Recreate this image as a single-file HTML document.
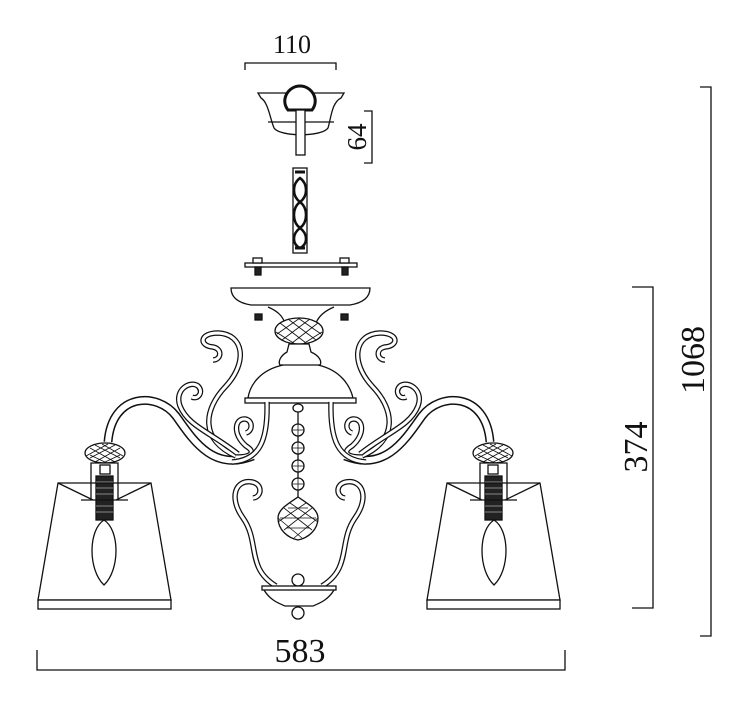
<!DOCTYPE html>
<html><head><meta charset="utf-8"><style>
html,body{margin:0;padding:0;background:#fff;}
svg{display:block;}
text{font-family:"Liberation Serif",serif;fill:#111;}
</style></head><body>
<svg width="754" height="720" viewBox="0 0 754 720" xmlns="http://www.w3.org/2000/svg">
<defs>
<g id="half" fill="none" stroke="#111" stroke-width="1.3">
  <path d="M345,456 C385,472 405,440 422,416 C440,392 486,392 490,442" stroke-width="9"/>
  <path d="M345,456 C385,472 405,440 422,416 C440,392 486,392 490,442" stroke="#fff" stroke-width="6"/>
  <g>
  <path d="M385,360 C377,360 375,349 385,347 C399,346 399,333 380,333 C354,334 350,362 372,386 C395,410 398,440 362,456" stroke-width="5.5"/>
  <path d="M385,360 C377,360 375,349 385,347 C399,346 399,333 380,333 C354,334 350,362 372,386 C395,410 398,440 362,456" stroke="#fff" stroke-width="3"/>
  <path d="M406,397 C400,400 394,392 400,386 C408,380 424,390 418,406 C410,426 388,432 360,454" stroke-width="5.5"/>
  <path d="M406,397 C400,400 394,392 400,386 C408,380 424,390 418,406 C410,426 388,432 360,454" stroke="#fff" stroke-width="3"/>
  <path d="M352,433 C345,431 345,420 353,419 C363,418 366,434 352,446 C342,452 346,457 362,457" stroke-width="5.5"/>
  <path d="M352,433 C345,431 345,420 353,419 C363,418 366,434 352,446 C342,452 346,457 362,457" stroke="#fff" stroke-width="3"/>
  <path d="M331,402 C330,440 338,460 366,462" stroke-width="5.5"/>
  <path d="M331,402 C330,440 338,460 366,462" stroke="#fff" stroke-width="3"/>
  <path d="M345,498 C336,497 335,484 346,482 C362,479 370,497 355,518 C338,542 352,568 322,586" stroke-width="5.5"/>
  <path d="M345,498 C336,497 335,484 346,482 C362,479 370,497 355,518 C338,542 352,568 322,586" stroke="#fff" stroke-width="3"/>
  </g>
  <ellipse cx="493" cy="453" rx="20" ry="10" fill="#fff"/>
  <path d="M478,448 L503,462 M483,445 L508,458 M490,444 L512,456 M478,455 L495,463 M508,448 L483,462 M503,445 L478,458 M496,444 L475,456 M508,455 L491,463" stroke-width="0.8"/>
  <path d="M480,500 L480,463 L507,463 L507,500" fill="#fff"/>
  <rect x="488" y="465" width="10" height="9" fill="#fff"/>
  <rect x="485" y="476" width="17" height="44" fill="#222"/>
  <path d="M485,482 H502 M485,488 H502 M485,494 H502 M485,500 H502 M485,506 H502 M485,512 H502" stroke="#888" stroke-width="1"/>
  <path d="M447,483 L540,483 L560,600 L427,600 Z" fill="none"/>
  <rect x="427" y="600" width="133" height="9" fill="#fff"/>
  <path d="M447,483 L482,500 M540,483 L505,500 M470,500 H517" />
  <path d="M494,520 C478,530 478,570 494,585 C510,570 510,530 494,520 Z" fill="#fff"/>
</g>
</defs>

<g stroke="#111" stroke-width="1.3" fill="none">
  <path d="M245,70 V63 H336 V70"/>
  <path d="M364,111 H372 V163 H364"/>
  <path d="M700,87 H711 V636 H700"/>
  <path d="M632,287 H653 V608 H632"/>
  <path d="M37,650 V670 H565 V650"/>
</g>
<text x="292" y="53" font-size="26" text-anchor="middle" font-family="Liberation Sans, sans-serif">110</text>
<text x="0" y="0" font-size="27" text-anchor="middle" font-family="Liberation Sans, sans-serif" transform="translate(366,137) rotate(-90)">64</text>
<text x="0" y="0" font-size="34" text-anchor="middle" transform="translate(704,360) rotate(-90)">1068</text>
<text x="0" y="0" font-size="34" text-anchor="middle" transform="translate(647,447) rotate(-90)">374</text>
<text x="300" y="662" font-size="34" text-anchor="middle">583</text>

<g fill="none" stroke="#111" stroke-width="1.3">
  <path d="M258,93 H344 L341,98 C332,102 331,118 328,128 C322,137 280,137 274,128 C270,118 268,102 261,98 Z" fill="#fff"/>
  <path d="M268,122 H334"/>
  <path d="M288,110 C280,100 288,86 300,86 C312,86 320,100 312,110 Z" stroke-width="3" fill="#fff"/>
  <rect x="296" y="110" width="9" height="45" fill="#fff"/>
  <rect x="293" y="168" width="14" height="85" fill="#fff"/>
  <path d="M295,172 H305 M295,248 H305" stroke-width="3"/>
  <path d="M300,178 C292,184 292,196 300,202 C308,196 308,184 300,178 Z M300,202 C292,208 292,222 300,228 C308,222 308,208 300,202 Z M300,228 C292,234 292,244 300,248 C308,244 308,234 300,228 Z" stroke-width="2.5"/>
  <rect x="245" y="263" width="112" height="4" fill="#fff"/>
  <rect x="253" y="258" width="9" height="5" fill="#fff"/><rect x="255" y="267" width="6" height="8" fill="#222"/>
  <rect x="340" y="258" width="9" height="5" fill="#fff"/><rect x="342" y="267" width="6" height="8" fill="#222"/>
  <path d="M231,288 H370 C370,298 362,303 350,305 H251 C239,303 231,298 231,288 Z" fill="#fff"/>
  <rect x="255" y="314" width="7" height="6" fill="#222"/><rect x="341" y="314" width="7" height="6" fill="#222"/>
  <path d="M268,307 C280,312 283,318 285,323 M334,307 C322,312 318,318 316,323"/>
  <ellipse cx="299" cy="331" rx="24" ry="13" fill="#fff"/>
  <path d="M280,323 L306,343 M288,319 L316,340 M298,318 L321,334 M276,332 L295,344 M318,323 L292,343 M310,319 L282,340 M300,318 L277,334 M322,332 L303,344" stroke-width="0.8"/>
  <path d="M289,344 H309 L311,352 C320,356 322,362 320,365 L280,365 C278,362 280,356 287,352 Z" fill="#fff"/>
  <path d="M283,365 C260,370 250,385 248,398 H353 C350,385 340,370 318,365"/>
  <rect x="245" y="398" width="111" height="5" fill="#fff"/>
</g>
<use href="#half"/>
<use href="#half" transform="translate(598,0) scale(-1,1)"/>
<g fill="none" stroke="#111" stroke-width="1.3">
  <ellipse cx="298" cy="408" rx="5" ry="4"/>
  <path d="M298,412 V500"/>
  <circle cx="298" cy="430" r="6" fill="#fff"/><circle cx="298" cy="448" r="6" fill="#fff"/>
  <circle cx="298" cy="466" r="6" fill="#fff"/><circle cx="298" cy="484" r="6" fill="#fff"/>
  <path d="M292,430 H304 M298,424 V436 M292,448 H304 M298,442 V454 M292,466 H304 M298,460 V472 M292,484 H304 M298,478 V490" stroke-width="0.8"/>
  <path d="M298,497 C310,505 318,510 318,518 C318,530 308,538 298,540 C288,538 278,530 278,518 C278,510 286,505 298,497 Z" fill="#fff"/>
  <path d="M284,508 L312,530 M290,503 L318,522 M278,518 L302,538 M312,508 L284,530 M306,503 L278,522 M318,518 L294,538 M280,518 H316 M286,528 H310 M288,508 H308" stroke-width="0.8"/>
  <circle cx="298" cy="580" r="6" fill="#fff"/>
  <rect x="262" y="586" width="74" height="4" fill="#fff"/>
  <path d="M264,590 C270,600 278,603 285,606 H313 C320,603 328,600 334,590"/>
  <circle cx="298" cy="613" r="6" fill="#fff"/>
</g>
</svg>
</body></html>
